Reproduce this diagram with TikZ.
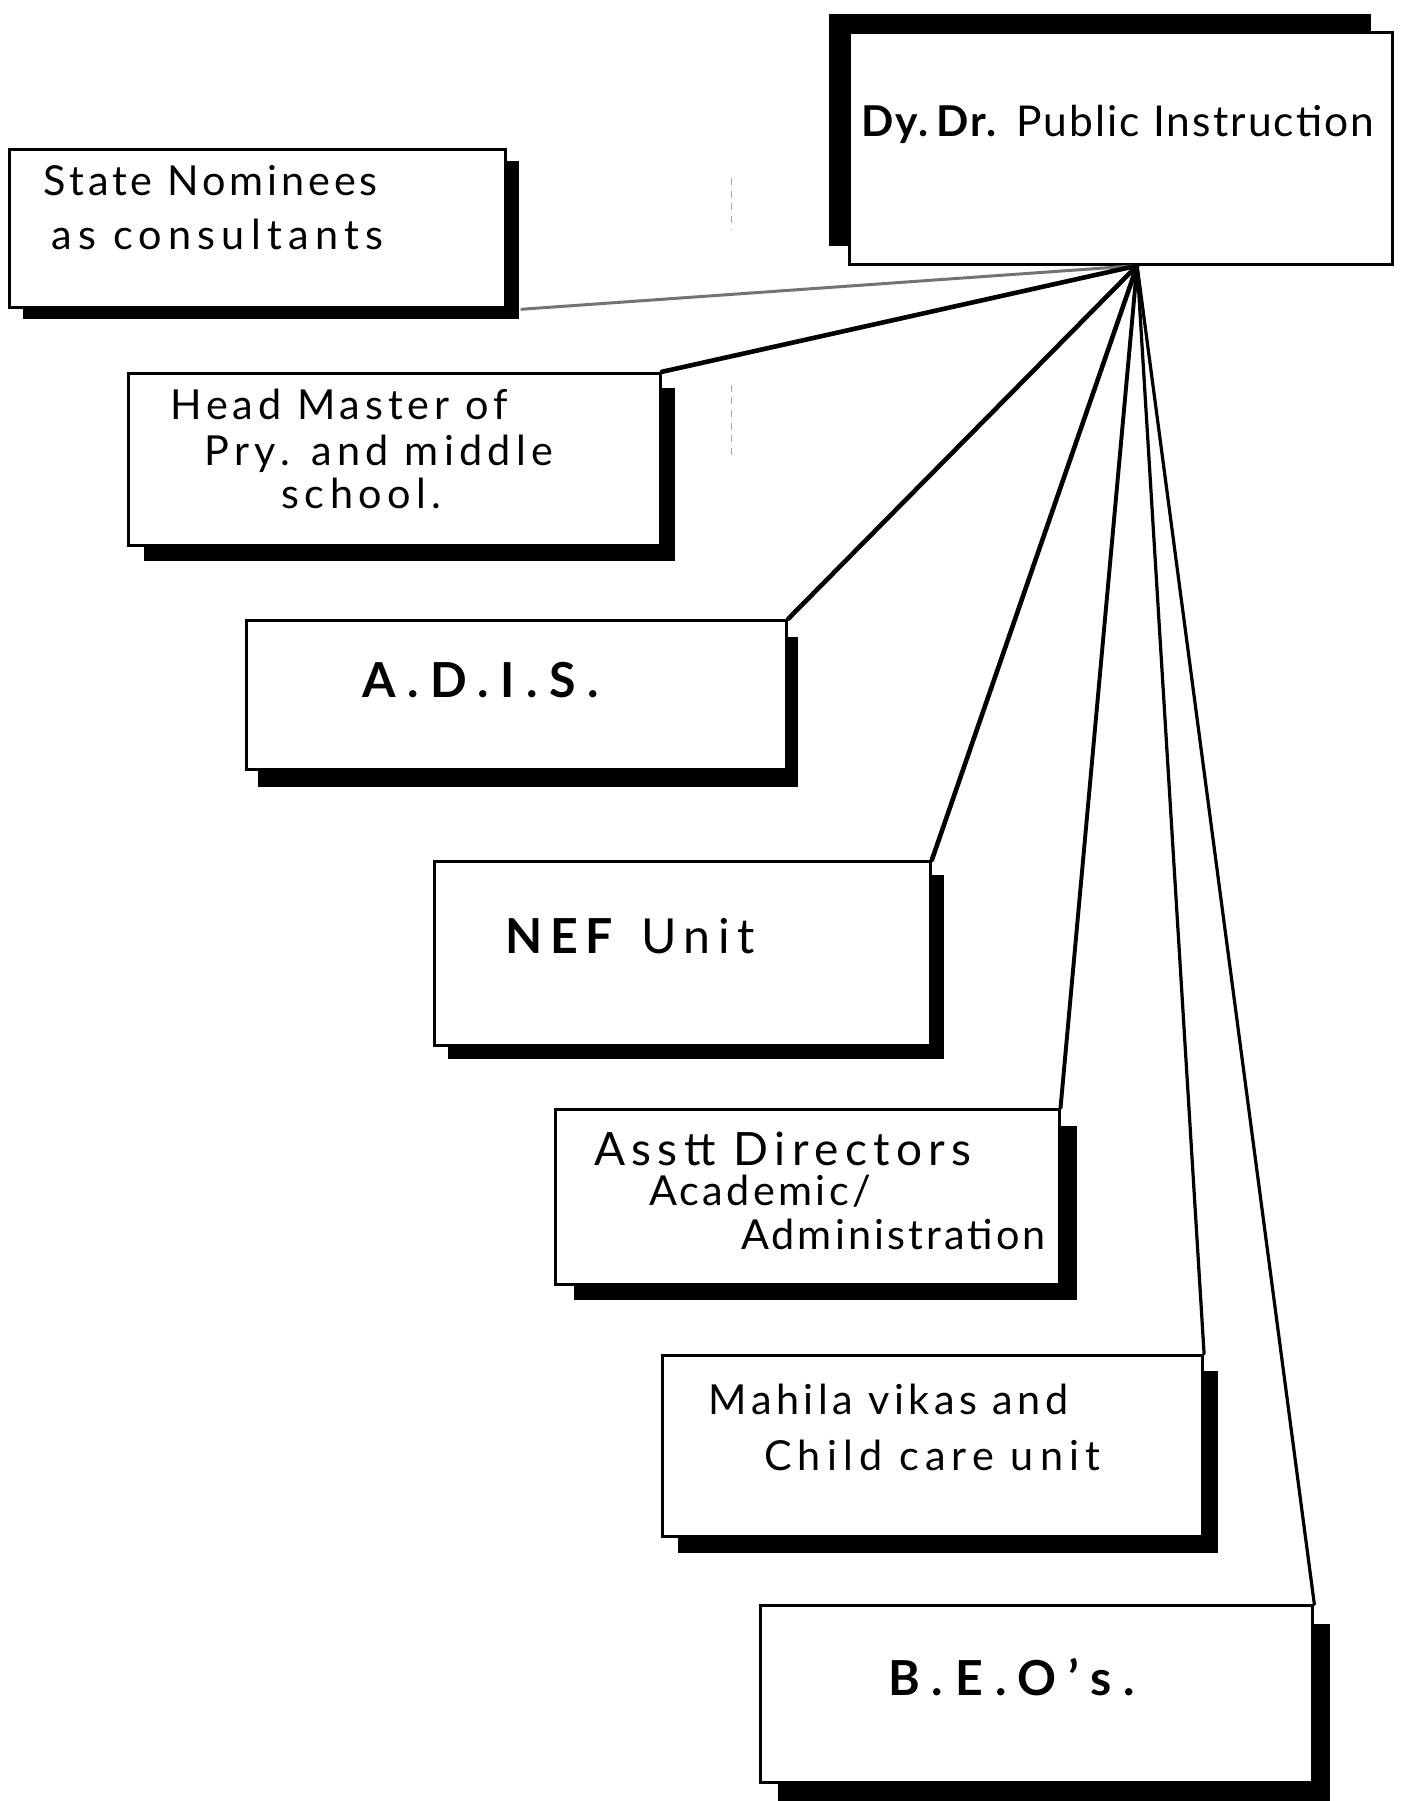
\documentclass[tikz,border=0pt]{standalone}
\usepackage{fontspec}
\setmainfont{Lato}
\usetikzlibrary{shadows}
% letter-spaced text: #1 = spacing, #2 = text
\newcommand{\wideset}[2]{{\addfontfeature{LetterSpace=#1}#2}}
\begin{document}
\begin{tikzpicture}[x=1pt,y=-1pt,
  unitbox/.style={draw=black, line width=2.6pt, fill=white, inner sep=0pt},
  sh/.style 2 args={drop shadow={shadow xshift=#1, shadow yshift=#2, opacity=1, fill=black}},
  conn/.style={draw=black, line width=4pt, line cap=round},
  txt/.style={anchor=west, inner sep=0pt, font=\fontsize{36}{40}\selectfont},
  bigtxt/.style={anchor=west, inner sep=0pt, font=\fontsize{42}{46}\selectfont\bfseries}]
\useasboundingbox (0,0) rectangle (1220,1568);
\fill[white] (0,0) rectangle (1220,1568);

% faint fold marks
\draw[black!35, line width=0.8pt, dash pattern=on 6pt off 5pt] (637,155) -- (637,200);
\draw[black!35, line width=0.8pt, dash pattern=on 6pt off 5pt] (637,335) -- (637,400);

% boxes
\node[unitbox, minimum width=472pt, minimum height=202pt, sh={-18pt}{16pt}] (dy) at (976,129) {};
\node[unitbox, minimum width=432pt, minimum height=138pt, sh={12pt}{-10pt}] (st) at (224,199) {};
\node[unitbox, minimum width=463pt, minimum height=150pt, sh={13pt}{-13pt}] (hm) at (343.5,400) {};
\node[unitbox, minimum width=470pt, minimum height=130pt, sh={10pt}{-15pt}] (ad) at (450,605) {};
\node[unitbox, minimum width=432pt, minimum height=160pt, sh={12pt}{-12pt}] (nef) at (594,830) {};
\node[unitbox, minimum width=438pt, minimum height=152pt, sh={16pt}{-14pt}] (as) at (703,1042) {};
\node[unitbox, minimum width=470pt, minimum height=158pt, sh={13pt}{-14pt}] (mh) at (812,1259) {};
\node[unitbox, minimum width=481pt, minimum height=154pt, sh={15pt}{-16pt}] (beo) at (902.5,1475) {};

% connectors radiating from one point on the lower edge of the head box
\coordinate (hub) at ([xshift=14pt]dy.south);
\draw[black!55, line width=2.6pt] ([xshift=12pt]st.south east) -- (hub);
\draw[conn] (hm.north east) -- (hub);
\draw[conn] (ad.north east) -- (hub);
\draw[conn] (nef.north east) -- (hub);
\draw[conn, line width=3.4pt] (as.north east) -- (hub);
\draw[conn, line width=2.8pt] (mh.north east) -- (hub);
\draw[conn, line width=2.8pt] (beo.north east) -- (hub);

% labels
\node[txt, font=\fontsize{37}{40}\selectfont] (dyt) at (750,108)
  {\wideset{5}{\textbf{Dy.\,Dr.} Public Instruction}};

\node[txt] (st1) at (38,157) {\wideset{9.5}{State Nominees}};
\node[txt] (st2) at (45,204) {\wideset{15}{as consultants}};

\node[txt] (hm1) at (148,352) {\wideset{12}{Head Master of}};
\node[txt] (hm2) at (178,395) {\wideset{13}{Pry. and middle}};
\node[txt] (hm3) at (245,430) {\wideset{13}{school.}};

\node[bigtxt] (adt) at (315,592) {\wideset{24}{A.D.I.S.}};

\node[txt, font=\fontsize{42}{46}\selectfont] (neft) at (440,815)
  {\wideset{16}{\textbf{NEF} Unit}};

\node[txt, font=\fontsize{40}{44}\selectfont] (as1) at (517,1000) {\wideset{14}{Asstt Directors}};
\node[txt] (as2) at (565,1037) {\wideset{8}{Academic/}};
\node[txt] (as3) at (645,1075) {\wideset{7.5}{Administration}};

\node[txt] (mh1) at (617,1218) {\wideset{11}{Mahila vikas and}};
\node[txt] (mh2) at (665,1267) {\wideset{15}{Child care unit}};

\node[bigtxt] (beot) at (773,1460) {\wideset{25}{B.E.O's.}};
\end{tikzpicture}
\end{document}
